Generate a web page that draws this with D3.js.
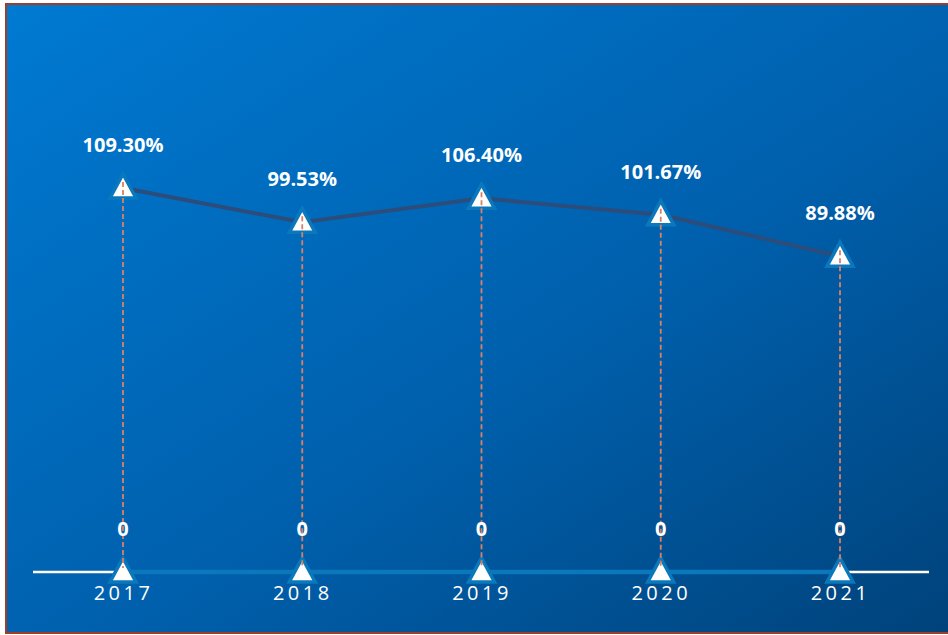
<!DOCTYPE html>
<html lang="en">
<head>
<meta charset="UTF-8">
<script src="https://d3js.org/d3.v7.min.js"></script>
<style>
  body { margin: 0; background: #fff; }
  text { font-family: "Open Sans", sans-serif; }
</style>
</head>
<body>
<div id="chart"></div>
<script>
// data
var years = ["2017", "2018", "2019", "2020", "2021"];
var rates = [109.30, 99.53, 106.40, 101.67, 89.88];
var zeros = [0, 0, 0, 0, 0];

var W = 948, H = 635;

var svg = d3.select("#chart").append("svg")
  .attr("width", W).attr("height", H);

// background gradient
var defs = svg.append("defs");
var grad = defs.append("linearGradient").attr("id", "bg")
  .attr("x1", 0).attr("y1", 0).attr("x2", 1).attr("y2", 1);
grad.append("stop").attr("offset", "0%").attr("stop-color", "#007ad2");
grad.append("stop").attr("offset", "55%").attr("stop-color", "#0060ad");
grad.append("stop").attr("offset", "100%").attr("stop-color", "#00427a");

svg.append("rect")
  .attr("x", 6).attr("y", 4).attr("width", W + 10).attr("height", 629)
  .attr("fill", "url(#bg)")
  .attr("stroke", "#9e3d28").attr("stroke-width", 2);

// scales
var x = d3.scalePoint().domain(years).range([123, 840]);
var y = d3.scaleLinear().domain([0, 120]).range([572, 150.4]);

// axis line (white) across the plot
svg.append("line")
  .attr("x1", 33).attr("x2", 929)
  .attr("y1", y(0)).attr("y2", y(0))
  .attr("stroke", "#ffffff").attr("stroke-width", 2.5);

// zero series line
var line = d3.line()
  .x(function(d, i) { return x(years[i]); })
  .y(function(d) { return y(d); });

svg.append("path")
  .datum(zeros)
  .attr("d", line)
  .attr("fill", "none")
  .attr("stroke", "#0a78bb")
  .attr("stroke-width", 4.5);

// rate series line
svg.append("path")
  .datum(rates)
  .attr("d", line)
  .attr("fill", "none")
  .attr("stroke", "#2b4d7c")
  .attr("stroke-width", 4);

// triangle markers
var tw = 26, th = 24;
var tri = "M0," + (-th * 2 / 3) + "L" + (tw / 2) + "," + (th / 3) + "L" + (-tw / 2) + "," + (th / 3) + "Z";

function markers(data) {
  svg.selectAll(null)
    .data(data)
    .enter()
    .append("path")
      .attr("d", tri)
      .attr("transform", function(d, i) { return "translate(" + x(years[i]) + "," + (y(d) + 2) + ")"; })
      .attr("fill", "#ffffff")
      .attr("stroke", "#0a78bb")
      .attr("stroke-width", 3.5)
      .attr("stroke-linejoin", "miter");
}
markers(rates);
markers(zeros);

// dashed drop lines
svg.selectAll(null)
  .data(rates)
  .enter()
  .append("line")
    .attr("x1", function(d, i) { return x(years[i]); })
    .attr("x2", function(d, i) { return x(years[i]); })
    .attr("y1", function(d) { return y(d) - 6; })
    .attr("y2", y(0) - 4)
    .attr("stroke", "#dc8062")
    .attr("stroke-width", 1.8)
    .attr("stroke-dasharray", "5,3");

// value labels
svg.selectAll(null)
  .data(rates)
  .enter()
  .append("text")
    .attr("x", function(d, i) { return x(years[i]); })
    .attr("y", function(d) { return y(d) - 36; })
    .attr("text-anchor", "middle")
    .attr("fill", "#ffffff")
    .attr("font-size", 20)
    .attr("font-weight", "bold")
    .text(function(d) { return d.toFixed(2) + "%"; });

svg.selectAll(null)
  .data(zeros)
  .enter()
  .append("text")
    .attr("x", function(d, i) { return x(years[i]); })
    .attr("y", function(d) { return y(d) - 36; })
    .attr("text-anchor", "middle")
    .attr("fill", "#ffffff")
    .attr("font-size", 20)
    .attr("font-weight", "bold")
    .text(function(d) { return d; });

// x axis labels
var xAxis = svg.append("g")
  .attr("transform", "translate(0," + y(0) + ")")
  .call(d3.axisBottom(x).tickSize(0).tickPadding(14));
xAxis.select(".domain").remove();
xAxis.selectAll("text")
  .attr("fill", "#ffffff")
  .attr("font-size", 20)
  .attr("font-family", "Open Sans, sans-serif")
  .attr("letter-spacing", "3.5px");
</script>
</body>
</html>
